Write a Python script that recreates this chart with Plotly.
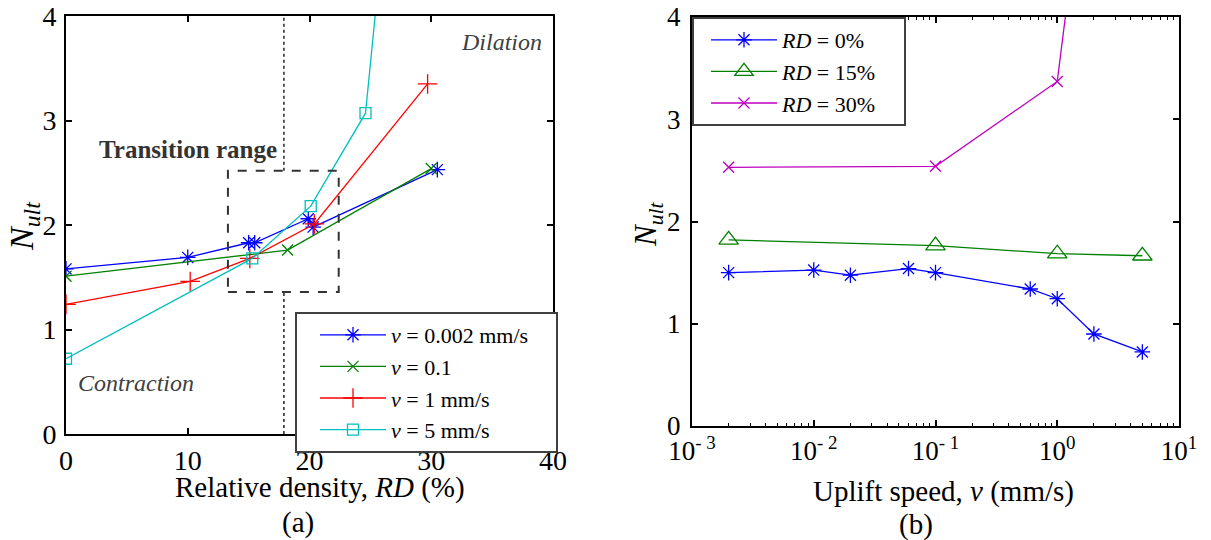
import plotly.graph_objects as go

# ---------------- data: panel (a) ----------------
rd_v0002 = [0, 10, 15, 15.5, 19.9, 20.3, 30.5]
n_v0002 = [1.58, 1.69, 1.83, 1.83, 2.06, 1.98, 2.53]
rd_v01 = [0, 18.2, 30]
n_v01 = [1.51, 1.76, 2.54]
rd_v1 = [0, 10.2, 15.1, 20.4, 29.7]
n_v1 = [1.24, 1.46, 1.68, 2.01, 3.35]
rd_v5 = [0, 15.3, 20.1, 24.6, 30.5]
n_v5 = [0.72, 1.68, 2.18, 3.07, 10.0]

# ---------------- data: panel (b) ----------------
v_rd0 = [0.002, 0.01, 0.02, 0.06, 0.1, 0.6, 1, 2, 5]
n_rd0 = [1.50, 1.525, 1.475, 1.54, 1.50, 1.34, 1.245, 0.90, 0.724]
v_rd15 = [0.002, 0.1, 1, 5]
n_rd15 = [1.82, 1.765, 1.685, 1.665]
v_rd30 = [0.002, 0.1, 1, 5]
n_rd30 = [2.53, 2.54, 3.37, 10.0]

xticks_a = [0, 10, 20, 30, 40]
yticks = [0, 1, 2, 3, 4]
xticks_b = [0.001, 0.01, 0.1, 1, 10]
xticktext_b = ["10<sup>- 3</sup>", "10<sup>- 2</sup>", "10<sup>- 1</sup>", "10<sup>0</sup>", "10<sup>1</sup>"]

# transition range annotation (RD, N)
box_rd = [13.3, 22.4]
box_n = [1.36, 2.52]
split_rd = 17.9

FONT = "Liberation Serif, Times New Roman, serif"
OFF = 8                     # page body margin of the browser
W, H = 1211 - OFF, 540 - OFF
PAD = "&nbsp;" * 4          # widens the legend box like the reference


def px(x):
    return (x - OFF) / W


def py(y):
    return 1 - (y - OFF) / H


fig = go.Figure()


def add(x, y, name, color, symbol, size, xa, ya, legend):
    fig.add_trace(go.Scatter(
        x=x, y=y, name=name, mode="lines+markers",
        line=dict(color=color, width=1.3),
        marker=dict(symbol=symbol, size=size, color=color,
                    line=dict(color=color, width=1.3)),
        xaxis=xa, yaxis=ya, legend=legend, cliponaxis=True))


add(rd_v0002, n_v0002, "<i>v</i> = 0.002 mm/s" + PAD, "#0000FF", "asterisk-open", 13, "x", "y", "legend")
add(rd_v01, n_v01, "<i>v</i> = 0.1", "#008000", "x-thin-open", 11, "x", "y", "legend")
add(rd_v1, n_v1, "<i>v</i> = 1 mm/s", "#FF0000", "cross-thin-open", 14, "x", "y", "legend")
add(rd_v5, n_v5, "<i>v</i> = 5 mm/s", "#00BFBF", "square-open", 11, "x", "y", "legend")

add(v_rd0, n_rd0, "<i>RD</i> = 0%", "#0000FF", "asterisk-open", 13, "x2", "y2", "legend2")
add(v_rd15, n_rd15, "<i>RD</i> = 15%" + PAD, "#008000", "triangle-up-open", 17, "x2", "y2", "legend2")
add(v_rd30, n_rd30, "<i>RD</i> = 30%", "#BF00BF", "x-thin-open", 11, "x2", "y2", "legend2")

axis_common = dict(showline=True, linecolor="black", linewidth=2, mirror="ticks",
                   ticks="inside", ticklen=6, tickwidth=1.5, tickcolor="black",
                   showgrid=False, zeroline=False, automargin=False,
                   ticklabeloverflow="allow")

minor_vals = [m * 10 ** e for e in range(-3, 1) for m in range(2, 10)]

fig.update_layout(
    template="none",
    width=W, height=H, autosize=False,
    margin=dict(l=0, r=0, t=0, b=0, pad=0, autoexpand=False),
    paper_bgcolor="white", plot_bgcolor="white",
    font=dict(family=FONT, color="black"),
    xaxis=dict(domain=[px(66), px(553)], anchor="y", range=[0, 40],
               tickmode="array", tickvals=xticks_a,
               tickfont=dict(family=FONT, size=28), ticklabelstandoff=0, **axis_common),
    yaxis=dict(domain=[py(434), py(16)], anchor="x", range=[0, 4],
               tickmode="array", tickvals=yticks,
               tickfont=dict(family=FONT, size=28), ticklabelstandoff=2, **axis_common),
    xaxis2=dict(domain=[px(692), px(1179)], anchor="y2", type="log", range=[-3, 1],
                tickmode="array", tickvals=xticks_b, ticktext=xticktext_b,
                tickfont=dict(family=FONT, size=27), ticklabelstandoff=0,
                minor=dict(tickmode="array", tickvals=minor_vals, ticks="inside",
                           ticklen=3, tickcolor="black", tickwidth=1, showgrid=False),
                **axis_common),
    yaxis2=dict(domain=[py(426), py(17)], anchor="x2", range=[0, 4],
                tickmode="array", tickvals=yticks,
                tickfont=dict(family=FONT, size=27), ticklabelstandoff=4, **axis_common),
    legend=dict(x=px(295), y=py(312), xanchor="left", yanchor="top",
                bgcolor="white", bordercolor="#404040", borderwidth=2,
                font=dict(family=FONT, size=22, color="black"),
                itemwidth=66, indentation=18, tracegroupgap=0),
    legend2=dict(x=px(692), y=py(17), xanchor="left", yanchor="top",
                 bgcolor="white", bordercolor="#404040", borderwidth=2,
                 font=dict(family=FONT, size=22, color="black"),
                 itemwidth=66, indentation=12, tracegroupgap=0),
    showlegend=True,
)

# transition box and dotted split line
fig.add_shape(type="rect", xref="x", yref="y", x0=box_rd[0], x1=box_rd[1],
              y0=box_n[0], y1=box_n[1], line=dict(color="#333333", width=2, dash="dash"))
fig.add_shape(type="line", xref="x", yref="y", x0=split_rd, x1=split_rd, y0=box_n[1], y1=4,
              line=dict(color="#222222", width=1.5, dash="dot"))
fig.add_shape(type="line", xref="x", yref="y", x0=split_rd, x1=split_rd, y0=0, y1=box_n[0],
              line=dict(color="#222222", width=1.5, dash="dot"))

ann = [
    dict(text="<b>Transition range</b>", x=10.0, y=2.72, xref="x", yref="y",
         font=dict(family=FONT, size=25, color="#333333")),
    dict(text="<i>Dilation</i>", x=39.3, y=3.75, xref="x", yref="y", xanchor="right",
         font=dict(family=FONT, size=24, color="#404040")),
    dict(text="<i>Contraction</i>", x=0.8, y=0.49, xref="x", yref="y", xanchor="left",
         font=dict(family=FONT, size=24, color="#404040")),
    dict(text="<i>N</i><sub><i>ult</i></sub>", x=px(24), y=py(226), xref="paper", yref="paper",
         textangle=-90, font=dict(family=FONT, size=34)),
    dict(text="<i>N</i><sub><i>ult</i></sub>", x=px(648), y=py(224), xref="paper", yref="paper",
         textangle=-90, font=dict(family=FONT, size=31)),
    dict(text="Relative density, <i>RD</i> (%)", x=px(320), y=py(487), xref="paper", yref="paper",
         font=dict(family=FONT, size=29)),
    dict(text="Uplift speed, <i>v</i> (mm/s)", x=px(944), y=py(491), xref="paper", yref="paper",
         font=dict(family=FONT, size=29)),
    dict(text="(a)", x=px(298), y=py(522), xref="paper", yref="paper", font=dict(family=FONT, size=29)),
    dict(text="(b)", x=px(916), y=py(524), xref="paper", yref="paper", font=dict(family=FONT, size=29)),
]
for a in ann:
    a.setdefault("showarrow", False)
    a.setdefault("xanchor", "center")
    a.setdefault("yanchor", "middle")
    fig.add_annotation(**a)

fig.write_html("out.html")
